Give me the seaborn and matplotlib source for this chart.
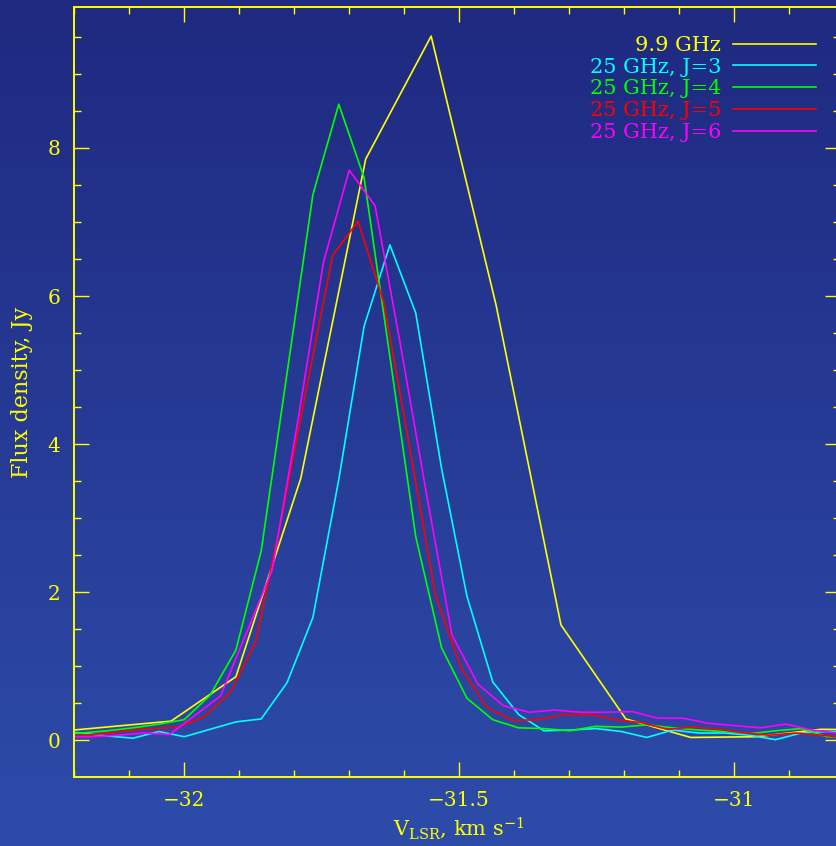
import numpy as np
import pandas as pd
import matplotlib
matplotlib.use("Agg")
import matplotlib.pyplot as plt
import seaborn as sns
from matplotlib.ticker import MultipleLocator
from matplotlib.colors import LinearSegmentedColormap

# ---------------- data ----------------
labels = ["9.9 GHz", "25 GHz, J=3", "25 GHz, J=4", "25 GHz, J=5", "25 GHz, J=6"]
colors = ["#ffff00", "#00ffff", "#00ff00", "#ff0000", "#ff00ff"]

v_99 = [-32.260, -32.142, -32.024, -31.906, -31.788, -31.670, -31.551, -31.433,
        -31.315, -31.197, -31.079, -30.960, -30.842, -30.724]
f_99 = [0.10, 0.18, 0.26, 0.86, 3.54, 7.85, 9.51, 5.88,
        1.56, 0.29, 0.04, 0.05, 0.15, 0.14]

v_j3 = [-32.233, -32.187, -32.140, -32.093, -32.046, -32.000, -31.953, -31.906,
        -31.860, -31.813, -31.766, -31.719, -31.673, -31.626, -31.579, -31.532,
        -31.486, -31.439, -31.392, -31.346, -31.299, -31.252, -31.205, -31.159,
        -31.112, -31.065, -31.018, -30.972, -30.925, -30.878, -30.832, -30.785]
f_j3 = [0.12, 0.10, 0.06, 0.03, 0.12, 0.05, 0.15, 0.25,
        0.29, 0.78, 1.66, 3.52, 5.59, 6.69, 5.77, 3.67,
        1.95, 0.79, 0.35, 0.13, 0.14, 0.16, 0.12, 0.04,
        0.14, 0.10, 0.10, 0.07, 0.01, 0.10, 0.12, 0.12]

v_j4 = [-32.233, -32.187, -32.140, -32.093, -32.046, -32.000, -31.953, -31.906,
        -31.860, -31.813, -31.766, -31.719, -31.673, -31.626, -31.579, -31.532,
        -31.486, -31.439, -31.392, -31.346, -31.299, -31.252, -31.205, -31.159,
        -31.112, -31.065, -31.018, -30.972, -30.925, -30.878, -30.832, -30.785]
f_j4 = [0.08, 0.10, 0.13, 0.17, 0.22, 0.28, 0.61, 1.22,
        2.56, 4.96, 7.37, 8.59, 7.60, 5.18, 2.75, 1.25,
        0.57, 0.28, 0.17, 0.16, 0.13, 0.19, 0.18, 0.21,
        0.17, 0.14, 0.12, 0.09, 0.13, 0.16, 0.05, 0.05]

v_j5 = [-32.244, -32.197, -32.151, -32.104, -32.057, -32.010, -31.964, -31.917,
        -31.870, -31.823, -31.777, -31.730, -31.684, -31.637, -31.590, -31.543,
        -31.496, -31.450, -31.403, -31.356, -31.309, -31.263, -31.216, -31.169,
        -31.122, -31.076, -31.029, -30.982, -30.936, -30.889, -30.842, -30.795]
f_j5 = [0.05, 0.06, 0.09, 0.13, 0.16, 0.18, 0.32, 0.64,
        1.33, 3.00, 4.78, 6.55, 7.01, 5.91, 3.95, 1.95,
        0.97, 0.45, 0.27, 0.28, 0.35, 0.35, 0.28, 0.24,
        0.15, 0.18, 0.15, 0.10, 0.07, 0.10, 0.07, 0.04]

v_j6 = [-32.214, -32.167, -32.121, -32.074, -32.027, -31.980, -31.934, -31.887,
        -31.840, -31.793, -31.747, -31.700, -31.653, -31.607, -31.560, -31.513,
        -31.466, -31.420, -31.373, -31.326, -31.279, -31.233, -31.186, -31.139,
        -31.093, -31.046, -30.999, -30.952, -30.906, -30.859, -30.812, -30.765]
f_j6 = [0.05, 0.05, 0.07, 0.10, 0.08, 0.34, 0.60, 1.45,
        2.30, 4.33, 6.45, 7.70, 7.22, 5.35, 3.35, 1.42,
        0.76, 0.47, 0.38, 0.41, 0.38, 0.38, 0.39, 0.30,
        0.30, 0.23, 0.20, 0.17, 0.22, 0.14, 0.10, 0.08]

x_ticks = [-32, -31.5, -31]
y_ticks = [0, 2, 4, 6, 8]

series = [(v_99, f_99), (v_j3, f_j3), (v_j4, f_j4), (v_j5, f_j5), (v_j6, f_j6)]

# ---------------- style ----------------
YEL = "#ffff00"
plt.rcParams["font.family"] = ["DejaVu Serif"]
plt.rcParams["mathtext.fontset"] = "dejavuserif"

fig = plt.figure(figsize=(8.37, 8.46), dpi=100)

# gradient background
bg = fig.add_axes([0, 0, 1, 1], zorder=0)
cmap = LinearSegmentedColormap.from_list("bg", [(31/255, 41/255, 128/255), (45/255, 76/255, 170/255)])
bg.imshow(np.linspace(0, 1, 256)[:, None], aspect="auto", cmap=cmap,
          extent=[0, 1, 0, 1], origin="upper")
bg.axis("off")

ax = fig.add_axes([74/837, 69/846, (840-74)/837, 770/846], zorder=1)
ax.set_facecolor("none")

for (v, f), lab, c in zip(series, labels, colors):
    df = pd.DataFrame({"v": v, "f": f})
    sns.lineplot(data=df, x="v", y="f", ax=ax, color=c, label=lab,
                 linewidth=1.2, estimator=None, sort=False)

ax.set_xlim(-32.2004, -30.8076)
ax.set_ylim(-0.494, 9.903)
ax.set_xticks(x_ticks)
ax.set_xticklabels(["\u221232", "\u221231.5", "\u221231"])
ax.set_yticks(y_ticks)
ax.xaxis.set_minor_locator(MultipleLocator(0.1))
ax.yaxis.set_minor_locator(MultipleLocator(0.5))

for s in ax.spines.values():
    s.set_color(YEL)
    s.set_linewidth(1.4)
ax.tick_params(which="both", direction="in", top=True, right=True,
               color=YEL, labelcolor=YEL, width=1.0, labelsize=14.5)
ax.tick_params(which="major", length=10.5)
ax.tick_params(which="minor", length=5.2)
ax.tick_params(axis="x", which="major", pad=10)
ax.tick_params(axis="y", which="major", pad=10)

ax.set_xlabel(r"V$_{\rm LSR}$, km s$^{-1}$", color=YEL, fontsize=15)
ax.xaxis.set_label_coords(0.5026, -0.050)
ax.set_ylabel("Flux density, Jy", color=YEL, fontsize=16)
ax.yaxis.set_label_coords(-0.0535, 0.5)

leg = ax.legend(loc="upper right", bbox_to_anchor=(816/837, (846-36)/846),
                bbox_transform=fig.transFigure, markerfirst=False, frameon=False,
                labelcolor="linecolor", fontsize=15, handlelength=4.0,
                handletextpad=0.55, labelspacing=0.13, borderpad=0, borderaxespad=0)

fig.savefig("out.png", dpi=100)
